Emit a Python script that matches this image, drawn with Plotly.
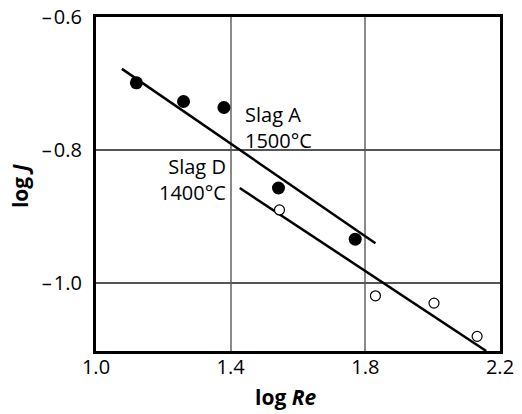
import plotly.graph_objects as go

# Measured mass-transfer data: log J against log Re
slag_a_log_re = [1.12, 1.26, 1.38, 1.542, 1.77]
slag_a_log_j = [-0.699, -0.727, -0.736, -0.857, -0.934]

slag_d_log_re = [1.545, 1.83, 2.004, 2.132]
slag_d_log_j = [-0.890, -1.019, -1.030, -1.080]

# Fitted regression lines (end points)
fit_a_log_re = [1.077, 1.83]
fit_a_log_j = [-0.678, -0.940]
fit_d_log_re = [1.427, 2.159]
fit_d_log_j = [-0.857, -1.102]

x_ticks = [1.0, 1.4, 1.8, 2.2]
x_tick_text = ["1.0", "1.4", "1.8", "2.2"]
y_ticks = [-0.6, -0.8, -1.0]
y_tick_text = ["\u2013\u200a0.6", "\u2013\u200a0.8", "\u2013\u200a1.0"]

FONT = "Open Sans"

fig = go.Figure()

fig.add_trace(go.Scatter(
    x=fit_a_log_re, y=fit_a_log_j, mode="lines",
    line=dict(color="black", width=2.5), showlegend=False, hoverinfo="skip"))
fig.add_trace(go.Scatter(
    x=fit_d_log_re, y=fit_d_log_j, mode="lines",
    line=dict(color="black", width=2.5), showlegend=False, hoverinfo="skip"))

fig.add_trace(go.Scatter(
    x=slag_a_log_re, y=slag_a_log_j, mode="markers", name="Slag A",
    marker=dict(symbol="circle", size=13, color="black",
                line=dict(color="black", width=0)),
    showlegend=False))
fig.add_trace(go.Scatter(
    x=slag_d_log_re, y=slag_d_log_j, mode="markers", name="Slag D",
    marker=dict(symbol="circle", size=10, color="white",
                line=dict(color="black", width=1.2)),
    showlegend=False))

# Series labels
label_font = dict(family=FONT, size=20, color="black")
fig.add_annotation(x=1.4356, y=-0.7654, xref="x", yref="y",
                   text="Slag A<br>1500\u00b0C", showarrow=False,
                   xanchor="left", yanchor="middle", align="left",
                   font=label_font)
fig.add_annotation(x=1.391, y=-0.8436, xref="x", yref="y",
                   text="Slag D<br>1400\u00b0C", showarrow=False,
                   xanchor="right", yanchor="middle", align="right",
                   font=label_font)

# Axis titles
title_font = dict(family=FONT, size=21, color="black")
fig.add_annotation(x=0.470, y=-0.138, xref="paper", yref="paper",
                   text="<b>log <i>Re</i></b>", showarrow=False,
                   xanchor="center", yanchor="middle", font=title_font)
fig.add_annotation(x=-0.188, y=0.494, xref="paper", yref="paper",
                   text="<b>log <i>J</i></b>", showarrow=False, textangle=-90,
                   xanchor="center", yanchor="middle", font=title_font)

fig.update_layout(
    width=522, height=414,
    margin=dict(l=96, r=22, t=17, b=63),
    paper_bgcolor="white", plot_bgcolor="white",
    font=dict(family=FONT, size=20, color="black"),
    xaxis=dict(
        range=[1.0, 2.2], tickvals=x_ticks, ticktext=x_tick_text,
        showgrid=True, gridcolor="#8a8a8a", gridwidth=2,
        showline=True, linecolor="black", linewidth=3, mirror=True,
        ticks="", ticklabelstandoff=-4, zeroline=False, automargin=False,
        tickfont=dict(family=FONT, size=20),
    ),
    yaxis=dict(
        range=[-1.102, -0.6], tickvals=y_ticks, ticktext=y_tick_text,
        showgrid=True, gridcolor="#555555", gridwidth=1.5,
        showline=True, linecolor="black", linewidth=3, mirror=True,
        ticks="", ticklabelstandoff=7, zeroline=False, automargin=False,
        tickfont=dict(family=FONT, size=20),
    ),
)

fig.write_html("out.html")
